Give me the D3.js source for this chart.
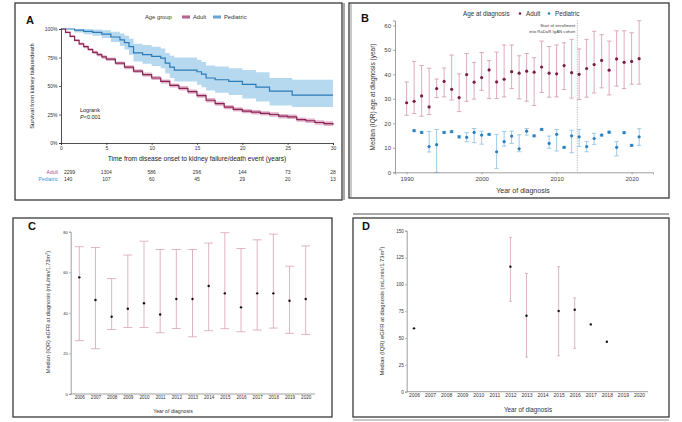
<!DOCTYPE html>
<html>
<head>
<meta charset="utf-8">
<script src="https://cdn.jsdelivr.net/npm/d3@7"></script>
<style>
  body { margin: 0; background: #fff; }
  svg { font-family: "Liberation Sans", Arial, sans-serif; display: block; }
</style>
</head>
<body>
<div id="chart"></div>
<script>
// ---- Panel A: Kaplan-Meier (percent) ----
const adultTime  = [0, 0.5, 1, 1.5, 2, 2.5, 3, 3.5, 4, 4.5, 5, 6, 7, 8, 9, 10, 11, 12, 13, 14, 15, 16, 17, 18, 19, 20, 21, 22, 23, 24, 25, 26, 27, 28, 29, 30];
const adultSurv  = [100, 97, 93.5, 90, 87, 84.5, 82, 79.5, 77.5, 75.5, 73.5, 70, 66.5, 63, 60, 57, 54, 50.5, 48, 45, 41.5, 37.5, 34.5, 31.5, 29.5, 28, 27, 26, 25, 23.5, 23, 20.5, 19.5, 18, 17, 16];
const adultLower = [100, 96.3, 92.5, 89, 85.8, 83.2, 80.6, 78, 76, 74, 72, 68.4, 64.8, 61.3, 58.2, 55.2, 52.2, 48.7, 46.1, 43.1, 39.6, 35.6, 32.6, 29.6, 27.6, 26.1, 25.1, 24.1, 23.1, 21.6, 21.1, 18.6, 17.5, 16, 15, 14];
const adultUpper = [100, 97.7, 94.5, 91, 88.2, 85.8, 83.4, 81, 79, 77, 75, 71.6, 68.2, 64.7, 61.8, 58.8, 55.8, 52.3, 49.9, 46.9, 43.4, 39.4, 36.4, 33.4, 31.4, 29.9, 28.9, 27.9, 26.9, 25.4, 24.9, 22.4, 21.5, 20, 19, 18];

const pedTime  = [0, 1.5, 2.5, 3.5, 4.5, 5.5, 6.5, 7, 7.5, 8, 9, 10, 11, 11.5, 12, 12.5, 15, 15.5, 16, 17, 18.5, 20, 21.5, 23, 25.5, 30];
const pedSurv  = [100, 99, 98, 97, 95.5, 93, 90.5, 88, 84.5, 79, 77.5, 76, 74.5, 70, 66.5, 64, 62.5, 60.5, 57, 55.5, 54, 51.5, 49, 45.5, 42, 42];
const pedUpper = [100, 100, 100, 99.5, 99, 97.5, 96, 94, 91.5, 87, 86, 84.5, 83, 79, 76.5, 75, 73, 71, 68, 67, 65.5, 64, 62, 57, 55.5, 55.5];
const pedLower = [100, 97, 95.5, 94, 92, 88.5, 85, 82, 77.5, 71.5, 69.5, 67.5, 65.5, 61, 57, 54, 51, 49, 46, 44, 42, 39, 36.5, 33, 31.5, 31.5];

const riskTimes = [0, 5, 10, 15, 20, 25, 30];
const riskAdult = [2299, 1304, 586, 296, 144, 73, 28];
const riskPed   = [140, 107, 60, 45, 29, 20, 13];
const percentTicks = [0, 25, 50, 75, 100];

// ---- Panel B: median (IQR) age at diagnosis ----
const bYears = [1990, 1991, 1992, 1993, 1994, 1995, 1996, 1997, 1998, 1999, 2000, 2001, 2002, 2003, 2004, 2005,
                2006, 2007, 2008, 2009, 2010, 2011, 2012, 2013, 2014, 2015, 2016, 2017, 2018, 2019, 2020, 2021];
const bAdultMed = [28.4, 29, 31.2, 26.7, 34.2, 37.1, 33.9, 30.5, 39.9, 36.8, 38.7, 41.8, 36.9, 38, 41.1, 40.5,
                   41.3, 40.9, 43, 40.5, 40.2, 43.6, 40.7, 40, 42.4, 44, 45.7, 41.7, 46.3, 44.9, 45.3, 46.4];
const bAdultQ1  = [23.3, 24, 22.9, 23.6, 30.5, 30.8, 29.5, 24.8, 29, 29.9, 33.5, 30.1, 30.1, 30.8, 34.2, 30,
                   29, 27.3, 32.6, 30.7, 30.8, 33.8, 30.3, 29.7, 30.7, 32.4, 34.5, 31.6, 35.2, 34.2, 36, 36];
const bAdultQ3  = [36.9, 45.3, 43.6, 42.5, 38.1, 42.6, 47.9, 40.2, 48.5, 44.9, 48.9, 45.6, 49.1, 52, 52, 47.6,
                   48.5, 46.8, 53.6, 51.4, 52, 52.9, 54.3, 50.4, 54.3, 57.6, 56.2, 53.6, 57.8, 57.8, 57, 61.9];
const bPedYears = [1991, 1992, 1993, 1994, 1995, 1996, 1997, 1998, 1999, 2000, 2001, 2002, 2003, 2004, 2005,
                   2006, 2007, 2008, 2009, 2010, 2011, 2012, 2013, 2014, 2015, 2016, 2017, 2018, 2019, 2020, 2021];
const bPedMed = [17, 16.3, 10.5, 11.3, 16.3, 16.6, 14.5, 14.3, 16.3, 15.2, 15.5, 8.4, 12.5, 14.8, 9.6,
                 16.8, 14.9, 17.5, 11.8, 15.5, 10.2, 14.9, 14.5, 10.5, 13.8, 15.2, 16.4, 10.2, 16.2, 11, 14.5];
const bPedQ1  = [16.6, 15.9, 8.3, 0, 15.9, 16.2, 14, 12.5, 12.1, 11.5, 15.1, 1.6, 10.7, 11.8, 8.4,
                 15.2, 14.5, 17.1, 9.8, 8.7, 9.8, 8, 10.5, 8.4, 11.4, 14.8, 16, 6.7, 15.8, 10.6, 11];
const bPedQ3  = [17.4, 16.7, 16.7, 17.5, 16.7, 17, 15, 16.2, 17.9, 16.8, 15.9, 15.5, 16.7, 16.8, 15.3,
                 17.9, 15.3, 17.9, 14.8, 17.5, 10.6, 17.2, 17.5, 12.5, 15.9, 15.6, 16.8, 12.5, 16.6, 11.4, 17.8];
const bTicksX = [1990, 2000, 2010, 2020];
const bTicksY = [0, 10, 20, 30, 40, 50, 60];
const enrollYear = 2012.75;

// ---- Panel C: median (IQR) eGFR, adults ----
const egfrYears = ['2006', '2007', '2008', '2009', '2010', '2011', '2012', '2013', '2014', '2015', '2016', '2017', '2018', '2019', '2020'];
const cMed = [57.5, 46.3, 38.1, 42, 44.7, 39.2, 46.8, 46.8, 53.2, 49.6, 42.7, 49.6, 49.6, 46, 46.8];
const cQ1  = [26.3, 22.3, 31.8, 32.8, 32.8, 30.2, 32.3, 28.2, 31.2, 32.2, 30.7, 31.5, 32.5, 29.9, 29.4];
const cQ3  = [72.6, 72.2, 56.9, 68.5, 75.3, 71.2, 71.2, 71.2, 74.4, 79.5, 71.7, 76, 78.8, 63, 73];
const cTicksY = [0, 20, 40, 60, 80];

// ---- Panel D: median (IQR) eGFR, pediatric ----
const dYears = ['2006', '2012', '2013', '2015', '2016', '2017', '2018'];
const dMed = [59, 116.5, 70.8, 75.2, 76.4, 62.7, 46.6];
const dQ1  = [59, 84.2, 32.3, 33.5, 40.4, 62.7, 46.6];
const dQ3  = [59, 143.8, 110.2, 116.5, 87.3, 62.7, 46.6];
const dTicksY = [0, 25, 50, 75, 100, 125, 150];

const adultCol = '#8c2453', adultFill = '#dba6c2';
const pedCol = '#2b7bb9', pedFill = '#a9d2ec';
const barPink = '#d9a1b6', barBlue = '#93c6e4';

const svg = d3.select('#chart').append('svg')
  .attr('width', 682).attr('height', 422);

// ---- Frames ----
function frame(x, y, w, h) {
  svg.append('rect').attr('x', x).attr('y', y).attr('width', w).attr('height', h)
    .attr('fill', 'none').attr('stroke', '#3a3a3a').attr('stroke-width', 1.3);
}
frame(15, 3, 327, 197);
svg.append('line').attr('x1', 344).attr('x2', 344).attr('y1', 3).attr('y2', 200).attr('stroke', '#555').attr('stroke-width', 1);
frame(349, 3, 320, 195);
svg.append('line').attr('x1', 351).attr('x2', 351).attr('y1', 3).attr('y2', 198).attr('stroke', '#777').attr('stroke-width', 0.8);
frame(13, 218, 319, 199);
frame(353, 218, 316, 199);
svg.append('line').attr('x1', 353).attr('x2', 669).attr('y1', 214).attr('y2', 214).attr('stroke', '#555').attr('stroke-width', 1);
svg.append('line').attr('x1', 353).attr('x2', 669).attr('y1', 420).attr('y2', 420).attr('stroke', '#777').attr('stroke-width', 0.8);

function styleAxis(g, col, textCol, size) {
  g.select('.domain').attr('stroke', col).attr('stroke-width', 0.8);
  g.selectAll('.tick line').attr('stroke', col).attr('stroke-width', 0.7);
  g.selectAll('.tick text').attr('fill', textCol).style('font-size', size + 'px');
}
function panelLetter(t, x, y) {
  svg.append('text').attr('x', x).attr('y', y).attr('font-weight', 'bold')
    .style('font-size', '11px').attr('fill', '#111').text(t);
}

// ================= Panel A =================
{
  const x = d3.scaleLinear().domain([0, 30]).range([61, 333]);
  const y = d3.scaleLinear().domain([0, 100]).range([143, 29]);
  const g = svg.append('g');

  const area = d3.area().curve(d3.curveStepAfter).x(d => x(d.t)).y0(d => y(d.lo)).y1(d => y(d.up));
  const line = d3.line().curve(d3.curveStepAfter).x(d => x(d.t)).y(d => y(d.s));

  const adult = adultTime.map((t, i) => ({ t, s: adultSurv[i], lo: adultLower[i], up: adultUpper[i] }));
  const ped = pedTime.map((t, i) => ({ t, s: pedSurv[i], lo: pedLower[i], up: pedUpper[i] }));

  g.append('path').datum(ped).attr('d', area).attr('fill', pedFill).attr('opacity', 0.85);
  g.append('path').datum(adult).attr('d', area).attr('fill', adultFill).attr('opacity', 0.85);
  g.append('path').datum(ped).attr('d', line).attr('fill', 'none').attr('stroke', pedCol).attr('stroke-width', 1.2);
  g.append('path').datum(adult).attr('d', line).attr('fill', 'none').attr('stroke', adultCol).attr('stroke-width', 1.2);

  const xa = g.append('g').attr('transform', 'translate(0,143)')
    .call(d3.axisBottom(x).tickValues([0, 5, 10, 15, 20, 25, 30]).tickSize(2).tickPadding(1.5));
  styleAxis(xa, '#222', '#333', 5);
  const ya = g.append('g').attr('transform', 'translate(61,0)')
    .call(d3.axisLeft(y).tickValues(percentTicks).tickFormat(d => d + '%').tickSize(2).tickPadding(1.5));
  styleAxis(ya, '#222', '#333', 5);

  g.append('text').attr('x', 197).attr('y', 161).attr('text-anchor', 'middle')
    .style('font-size', '6.6px').attr('fill', '#222')
    .text('Time from disease onset to kidney failure/death event (years)');
  g.append('text').attr('transform', 'translate(34,86) rotate(-90)').attr('text-anchor', 'middle')
    .style('font-size', '5.8px').attr('fill', '#222').text('Survival from kidney failure/death');

  g.append('text').attr('x', 80).attr('y', 112).style('font-size', '5.5px').attr('fill', '#222').text('Logrank');
  g.append('text').attr('x', 80).attr('y', 119).style('font-size', '5.5px').attr('fill', '#222')
    .html('<tspan font-style="italic">P</tspan>&lt;0.001');

  // legend
  g.append('text').attr('x', 145).attr('y', 19).style('font-size', '5.8px').attr('fill', '#333').text('Age group');
  [['Adult', adultFill, adultCol, 182], ['Pediatric', pedFill, pedCol, 213]].forEach(([lab, f, c, lx]) => {
    g.append('rect').attr('x', lx).attr('y', 15).attr('width', 8).attr('height', 4).attr('fill', f);
    g.append('line').attr('x1', lx).attr('x2', lx + 8).attr('y1', 17).attr('y2', 17).attr('stroke', c).attr('stroke-width', 1);
    g.append('text').attr('x', lx + 11).attr('y', 19).style('font-size', '5.8px').attr('fill', '#333').text(lab);
  });

  // risk table (first column sits right of the tick so the row labels stay clear)
  g.append('text').attr('x', 58).attr('y', 174).attr('text-anchor', 'end').style('font-size', '5px').attr('fill', '#b04a7c').text('Adult');
  g.append('text').attr('x', 58).attr('y', 181).attr('text-anchor', 'end').style('font-size', '5px').attr('fill', '#3c94d6').text('Pediatric');
  riskTimes.forEach((t, i) => {
    const tx = i === 0 ? x(t) + 3 : x(t);
    const anchor = i === 0 ? 'start' : 'middle';
    g.append('text').attr('x', tx).attr('y', 174).attr('text-anchor', anchor).style('font-size', '5px').attr('fill', '#333').text(riskAdult[i]);
    g.append('text').attr('x', tx).attr('y', 181).attr('text-anchor', anchor).style('font-size', '5px').attr('fill', '#333').text(riskPed[i]);
  });
  panelLetter('A', 26, 24);
}

// ================= Panel B =================
{
  const x = d3.scaleLinear().domain([1988.45, 2022.85]).range([395, 653]);
  const y = d3.scaleLinear().domain([0, 62]).range([172.3, 20.5]);
  const g = svg.append('g');

  g.append('line').attr('x1', x(enrollYear)).attr('x2', x(enrollYear)).attr('y1', 20.5).attr('y2', 172)
    .attr('stroke', '#999').attr('stroke-width', 0.7).attr('stroke-dasharray', '1.2,1.2');
  g.append('text').attr('x', x(enrollYear) - 2).attr('y', 27).attr('text-anchor', 'end')
    .style('font-size', '4.3px').attr('fill', '#444').text('Start of enrollment');
  g.append('text').attr('x', x(enrollYear) - 2).attr('y', 33).attr('text-anchor', 'end')
    .style('font-size', '4.3px').attr('fill', '#444').text('into RaDaR IgAN cohort');

  function bars(years, med, q1, q3, barCol, ptCol) {
    const cap = 2.2;
    years.forEach((yr, i) => {
      const cx = x(yr);
      g.append('line').attr('x1', cx).attr('x2', cx).attr('y1', y(q1[i])).attr('y2', y(q3[i])).attr('stroke', barCol).attr('stroke-width', 0.9);
      g.append('line').attr('x1', cx - cap).attr('x2', cx + cap).attr('y1', y(q1[i])).attr('y2', y(q1[i])).attr('stroke', barCol).attr('stroke-width', 0.9);
      g.append('line').attr('x1', cx - cap).attr('x2', cx + cap).attr('y1', y(q3[i])).attr('y2', y(q3[i])).attr('stroke', barCol).attr('stroke-width', 0.9);
    });
    g.selectAll(null).data(years).enter().append('circle')
      .attr('cx', d => x(d)).attr('cy', (d, i) => y(med[i])).attr('r', 1.6).attr('fill', ptCol);
  }
  bars(bYears, bAdultMed, bAdultQ1, bAdultQ3, barPink, '#7a1e47');
  bars(bPedYears, bPedMed, bPedQ1, bPedQ3, barBlue, '#2a7fbf');

  const xa = g.append('g').attr('transform', 'translate(0,172.3)')
    .call(d3.axisBottom(x).tickValues(bTicksX).tickFormat(d3.format('d')).tickSize(2).tickPadding(2));
  styleAxis(xa, '#888', '#444', 6);
  const ya = g.append('g').attr('transform', 'translate(395,0)')
    .call(d3.axisLeft(y).tickValues(bTicksY).tickSize(2).tickPadding(2));
  styleAxis(ya, '#888', '#444', 6);

  g.append('text').attr('x', 523).attr('y', 193).attr('text-anchor', 'middle')
    .style('font-size', '7px').attr('fill', '#333').text('Year of diagnosis');
  g.append('text').attr('transform', 'translate(375,97) rotate(-90)').attr('text-anchor', 'middle')
    .style('font-size', '6.5px').attr('fill', '#333').text('Median (IQR) age at diagnosis (year)');

  g.append('text').attr('x', 463).attr('y', 15.5).style('font-size', '6.3px').attr('fill', '#333').text('Age at diagnosis');
  g.append('circle').attr('cx', 520).attr('cy', 13.5).attr('r', 1.3).attr('fill', '#7a1e47');
  g.append('text').attr('x', 526).attr('y', 15.5).style('font-size', '6.3px').attr('fill', '#333').text('Adult');
  g.append('circle').attr('cx', 549).attr('cy', 13.5).attr('r', 1.3).attr('fill', '#2a7fbf');
  g.append('text').attr('x', 555).attr('y', 15.5).style('font-size', '6.3px').attr('fill', '#333').text('Pediatric');
  panelLetter('B', 361, 22);
}

// ================= Panels C & D =================
function egfrPanel(opts) {
  const { years, med, q1, q3, ticks, yMax, xRange, axisX0, axisX1, y0, y1, cap, tickSize, titleX, titleY, titleSize, ylabX, ylabY, ylabSize } = opts;
  const x = d3.scalePoint().domain(egfrYears).range(xRange);
  const y = d3.scaleLinear().domain([0, yMax]).range([y0, y1]);
  const g = svg.append('g');

  years.forEach((yr, i) => {
    if (q1[i] === q3[i]) return;
    const cx = x(yr);
    g.append('line').attr('x1', cx).attr('x2', cx).attr('y1', y(q1[i])).attr('y2', y(q3[i])).attr('stroke', barPink).attr('stroke-width', 0.8);
    g.append('line').attr('x1', cx - cap).attr('x2', cx + cap).attr('y1', y(q1[i])).attr('y2', y(q1[i])).attr('stroke', barPink).attr('stroke-width', 0.8);
    g.append('line').attr('x1', cx - cap).attr('x2', cx + cap).attr('y1', y(q3[i])).attr('y2', y(q3[i])).attr('stroke', barPink).attr('stroke-width', 0.8);
  });
  g.selectAll(null).data(years).enter().append('circle')
    .attr('cx', d => x(d)).attr('cy', (d, i) => y(med[i])).attr('r', 1.2).attr('fill', '#111');

  g.append('line').attr('x1', axisX0).attr('x2', axisX1).attr('y1', y0).attr('y2', y0).attr('stroke', '#888').attr('stroke-width', 0.8);
  const xa = g.append('g').attr('transform', `translate(0,${y0})`)
    .call(d3.axisBottom(x).tickSize(0).tickPadding(2));
  xa.select('.domain').remove();
  xa.selectAll('.tick text').attr('fill', '#333').style('font-size', tickSize + 'px');
  const ya = g.append('g').attr('transform', `translate(${axisX0},0)`)
    .call(d3.axisLeft(y).tickValues(ticks).tickSize(1.5).tickPadding(1.5));
  styleAxis(ya, '#888', '#333', tickSize - 0.5);

  g.append('text').attr('x', titleX).attr('y', titleY).attr('text-anchor', 'middle')
    .style('font-size', titleSize + 'px').attr('fill', '#333').text('Year of diagnosis');
  g.append('text').attr('transform', `translate(${ylabX},${ylabY}) rotate(-90)`).attr('text-anchor', 'middle')
    .style('font-size', ylabSize + 'px').attr('fill', '#333')
    .html('Median (IQR) eGFR at diagnosis (mL/min/1.73m<tspan baseline-shift="super" font-size="70%">2</tspan>)');
}

egfrPanel({
  years: egfrYears, med: cMed, q1: cQ1, q3: cQ3, ticks: cTicksY, yMax: 80,
  xRange: [79.3, 305.7], axisX0: 70.7, axisX1: 315, y0: 394, y1: 231.7, cap: 4.5,
  tickSize: 4.6, titleX: 173, titleY: 413, titleSize: 5.2, ylabX: 50, ylabY: 312, ylabSize: 5.5
});
panelLetter('C', 28, 230);

egfrPanel({
  years: dYears, med: dMed, q1: dQ1, q3: dQ3, ticks: dTicksY, yMax: 150,
  xRange: [414, 639], axisX0: 406.7, axisX1: 648, y0: 391.7, y1: 230.7, cap: 1.5,
  tickSize: 5, titleX: 528, titleY: 412, titleSize: 6.3, ylabX: 384, ylabY: 311, ylabSize: 5.8
});
panelLetter('D', 362, 230);
</script>
</body>
</html>
